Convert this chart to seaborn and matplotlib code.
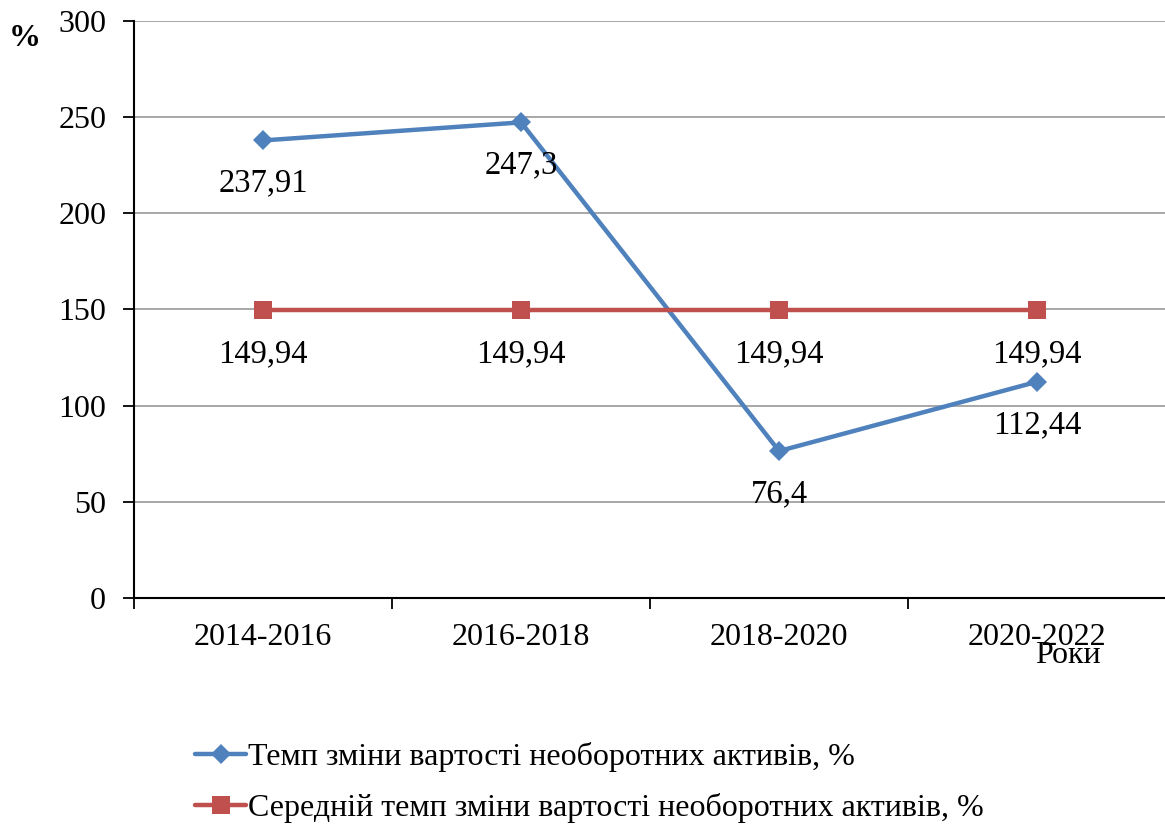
import pandas as pd
import matplotlib.pyplot as plt
import seaborn as sns

periods = ['2014-2016', '2016-2018', '2018-2020', '2020-2022']
growth = [237.91, 247.3, 76.4, 112.44]
average = [149.94, 149.94, 149.94, 149.94]
growth_labels = ['237,91', '247,3', '76,4', '112,44']
average_labels = ['149,94', '149,94', '149,94', '149,94']
name_growth = 'Темп зміни вартості необоротних активів, %'
name_average = 'Середній темп зміни вартості необоротних активів, %'

sns.set_style('white')
plt.rcParams['font.family'] = ['Liberation Serif', 'DejaVu Serif']
plt.rcParams['text.color'] = 'black'
plt.rcParams['xtick.color'] = 'black'
plt.rcParams['ytick.color'] = 'black'

df = pd.DataFrame({'pos': range(len(periods)), 'growth': growth, 'average': average})

fig = plt.figure(figsize=(11.65, 8.25), dpi=100)
ax = fig.add_axes([0.115, 0.2752, 0.886, 0.6993])

sns.lineplot(data=df, x='pos', y='growth', ax=ax, color='#4F81BD', lw=3.2,
             marker='D', markersize=10, markeredgewidth=0, label=name_growth)
sns.lineplot(data=df, x='pos', y='average', ax=ax, color='#C0504D', lw=3.2,
             marker='s', markersize=13, markeredgewidth=0, label=name_average)

for i in range(len(periods)):
    ax.annotate(growth_labels[i], (i, growth[i]), xytext=(0, -31), textcoords='offset points',
                ha='center', va='center', fontsize=23.5)
    ax.annotate(average_labels[i], (i, average[i]), xytext=(0, -32), textcoords='offset points',
                ha='center', va='center', fontsize=23.5)

ax.set_xlim(-0.5, 3.5)
ax.set_ylim(0, 300)
ax.set_yticks(range(0, 301, 50))
ax.yaxis.grid(True, color='#A0A0A0', lw=1.3)
ax.set_axisbelow(True)
ax.set_xticks([-0.5, 0.5, 1.5, 2.5, 3.5])
ax.set_xticklabels([])
ax.set_xticks(range(len(periods)), minor=True)
ax.set_xticklabels(periods, minor=True)
ax.tick_params(axis='x', which='major', bottom=True, direction='out', length=8, width=1.3)
ax.tick_params(axis='x', which='minor', bottom=True, length=0, labelsize=23, pad=18)
ax.tick_params(axis='y', left=True, direction='out', length=8, width=1.3, labelsize=23, pad=12)
ax.set_xlabel('')
ax.set_ylabel('')
for s in ['top', 'right']:
    ax.spines[s].set_visible(False)
for s in ['left', 'bottom']:
    ax.spines[s].set_color('black')
    ax.spines[s].set_linewidth(1.5)

fig.text(0.021, 0.953, '%', fontsize=23, fontweight='bold', ha='center', va='center')
fig.text(0.917, 0.205, 'Роки', fontsize=23, ha='center', va='center')

ax.legend(loc='upper left', bbox_to_anchor=(0.047, -0.228), frameon=False, fontsize=23,
          handlelength=1.6, handletextpad=0.05, labelspacing=0.65, borderaxespad=0)

fig.savefig('out.png', dpi=100)
